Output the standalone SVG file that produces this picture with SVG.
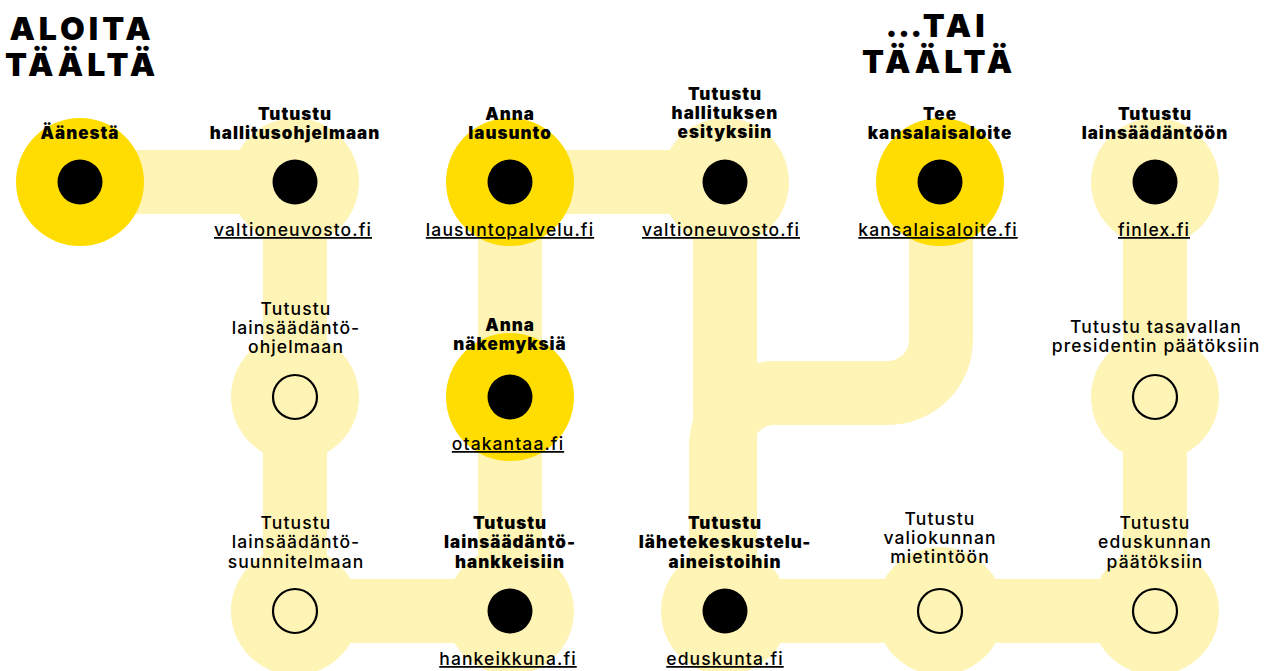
<svg xmlns="http://www.w3.org/2000/svg" width="1274" height="671" viewBox="0 0 1274 671">
<style>
.band{fill:none;stroke:#FEF4B5;stroke-width:64;stroke-linecap:butt;stroke-linejoin:round}
.halo{fill:#FEF4B5}
.hot{fill:#FFDD00}
.dot{fill:#000}
.ring{fill:none;stroke:#000;stroke-width:2.2}
.title{font-family:Inter,"Liberation Sans",sans-serif;font-weight:900;font-size:32px;letter-spacing:4px;fill:#000;text-anchor:middle}
.b{font-family:Inter,"Liberation Sans",sans-serif;font-weight:900;font-size:17px;letter-spacing:1px;fill:#000;text-anchor:middle}
.r{font-family:Inter,"Liberation Sans",sans-serif;font-weight:500;font-size:17.5px;letter-spacing:1.1px;fill:#000;text-anchor:middle}
.u{font-family:Inter,"Liberation Sans",sans-serif;font-weight:500;font-size:17.5px;letter-spacing:1.1px;fill:#000;text-anchor:middle;text-decoration:underline}
</style>
<rect width="1274" height="671" fill="#fff"/>
<g id="connectors">
<path class="band" d="M80,182 H295"/>
<path class="band" d="M510,182 H725"/>
<path class="band" d="M295,182 V611"/>
<path class="band" d="M510,182 V611"/>
<path class="band" d="M725,182 V611"/>
<path class="band" d="M1155,182 V611"/>
<path class="band" d="M295,611 H510"/>
<path class="band" d="M725,611 H1155"/>
<path class="band" d="M941,182 V340 A53,53 0 0 1 888,393 H774 A53,53 0 0 0 721,446 V611"/>
</g>
<g id="titles">
<text class="title" x="82" y="40">ALOITA</text>
<text class="title" x="82" y="76">TÄÄLTÄ</text>
<text class="title" x="937" y="37"><tspan style="letter-spacing:0.5px">...</tspan>TAI</text>
<text class="title" x="939" y="73">TÄÄLTÄ</text>
</g>
<g id="n-aanesta">
<circle class="hot" cx="80" cy="182" r="64"/><circle class="dot" cx="80" cy="182" r="22.5"/>
<text class="b" x="80" y="139">Äänestä</text>
</g>
<g id="n-hallitusohjelma">
<circle class="halo" cx="295" cy="182" r="64"/><circle class="dot" cx="295" cy="182" r="22.5"/>
<text class="b" x="295" y="120">Tutustu</text><text class="b" x="295" y="139">hallitusohjelmaan</text>
<text class="u" x="293" y="236">valtioneuvosto.fi</text>
</g>
<g id="n-lausunto">
<circle class="hot" cx="510" cy="182" r="64"/><circle class="dot" cx="510" cy="182" r="22.5"/>
<text class="b" x="510" y="120">Anna</text><text class="b" x="510" y="139">lausunto</text>
<text class="u" x="510" y="236">lausuntopalvelu.fi</text>
</g>
<g id="n-esitykset">
<circle class="halo" cx="725" cy="182" r="64"/><circle class="dot" cx="725" cy="182" r="22.5"/>
<text class="b" x="725" y="100">Tutustu</text><text class="b" x="725" y="119">hallituksen</text><text class="b" x="725" y="138">esityksiin</text>
<text class="u" x="721" y="236">valtioneuvosto.fi</text>
</g>
<g id="n-kansalaisaloite">
<circle class="hot" cx="940" cy="182" r="64"/><circle class="dot" cx="940" cy="182" r="22.5"/>
<text class="b" x="940" y="120">Tee</text><text class="b" x="940" y="139">kansalaisaloite</text>
<text class="u" x="938" y="236">kansalaisaloite.fi</text>
</g>
<g id="n-lainsaadanto">
<circle class="halo" cx="1155" cy="182" r="64"/><circle class="dot" cx="1155" cy="182" r="22.5"/>
<text class="b" x="1155" y="120">Tutustu</text><text class="b" x="1155" y="139">lainsäädäntöön</text>
<text class="u" x="1154" y="236">finlex.fi</text>
</g>
<g id="n-ohjelma">
<circle class="halo" cx="295" cy="397" r="64"/><circle class="ring" cx="295" cy="397" r="22"/>
<text class="r" x="296" y="315">Tutustu</text><text class="r" x="296" y="334">lainsäädäntö-</text><text class="r" x="296" y="353">ohjelmaan</text>
</g>
<g id="n-nakemyksia">
<circle class="hot" cx="510" cy="397" r="64"/><circle class="dot" cx="510" cy="397" r="22.5"/>
<text class="b" x="510" y="331">Anna</text><text class="b" x="510" y="350">näkemyksiä</text>
<text class="u" x="508" y="450">otakantaa.fi</text>
</g>
<g id="n-presidentti">
<circle class="halo" cx="1155" cy="397" r="64"/><circle class="ring" cx="1155" cy="397" r="22"/>
<text class="r" x="1156" y="333">Tutustu tasavallan</text><text class="r" x="1156" y="352">presidentin päätöksiin</text>
</g>
<g id="n-suunnitelma">
<circle class="halo" cx="295" cy="611" r="64"/><circle class="ring" cx="295" cy="611" r="22"/>
<text class="r" x="296" y="529">Tutustu</text><text class="r" x="296" y="548">lainsäädäntö-</text><text class="r" x="296" y="568">suunnitelmaan</text>
</g>
<g id="n-hankkeet">
<circle class="halo" cx="510" cy="611" r="64"/><circle class="dot" cx="510" cy="611" r="22.5"/>
<text class="b" x="510" y="529">Tutustu</text><text class="b" x="510" y="548">lainsäädäntö-</text><text class="b" x="510" y="568">hankkeisiin</text>
<text class="u" x="508" y="665">hankeikkuna.fi</text>
</g>
<g id="n-lahetekeskustelu">
<circle class="halo" cx="725" cy="611" r="64"/><circle class="dot" cx="725" cy="611" r="22.5"/>
<text class="b" x="725" y="529">Tutustu</text><text class="b" x="725" y="548">lähetekeskustelu-</text><text class="b" x="725" y="568">aineistoihin</text>
<text class="u" x="725" y="665">eduskunta.fi</text>
</g>
<g id="n-mietinnot">
<circle class="halo" cx="940" cy="611" r="64"/><circle class="ring" cx="940" cy="611" r="22"/>
<text class="r" x="940" y="525">Tutustu</text><text class="r" x="940" y="544">valiokunnan</text><text class="r" x="940" y="563">mietintöön</text>
</g>
<g id="n-paatokset">
<circle class="halo" cx="1155" cy="611" r="64"/><circle class="ring" cx="1155" cy="611" r="22"/>
<text class="r" x="1155" y="529">Tutustu</text><text class="r" x="1155" y="548">eduskunnan</text><text class="r" x="1155" y="568">päätöksiin</text>
</g>
</svg>
